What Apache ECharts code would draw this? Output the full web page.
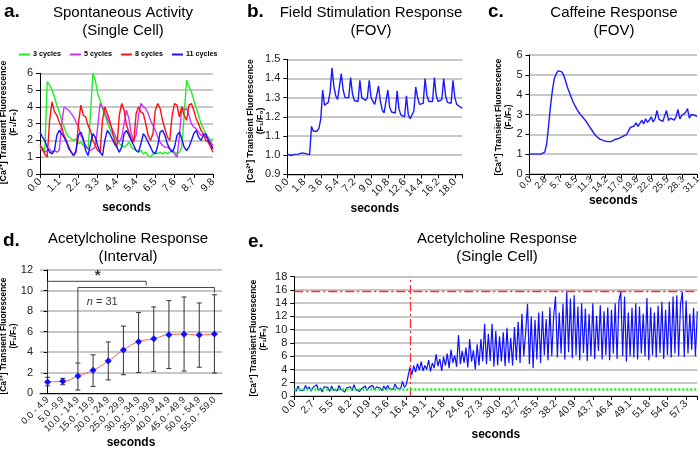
<!DOCTYPE html>
<html><head><meta charset="utf-8">
<script src="https://cdn.jsdelivr.net/npm/echarts@6/dist/echarts.min.js"></script>
<style>html,body{margin:0;padding:0;background:#fff}#c{width:700px;height:450px}</style>
</head><body><div id="c"></div>
<script>
// ---------- Panel a: spontaneous activity ----------
const ticksA = ['0.0','1.1','2.2','3.3','4.4','5.4','6.5','7.6','8.7','9.8'];
const green3 = [1.5,1.6,1.4,5.5,5.3,5.0,4.6,4.1,3.7,3.2,
 2.8,2.4,2.2,2.1,2.0,2.1,1.8,1.9,1.7,1.6,
 1.5,3.5,6.0,5.6,4.8,4.4,3.9,3.5,3.1,2.7,
 2.4,2.2,2.0,1.8,1.7,1.6,1.7,1.9,1.6,1.5,
 1.4,1.3,1.4,1.2,1.3,1.1,1.0,1.2,1.3,1.2,
 1.3,1.2,1.3,1.2,1.3,1.4,1.3,1.2,1.3,1.6,
 3.5,5.6,5.2,4.9,4.4,3.9,3.5,3.0,2.7,2.4,
 2.2,2.0,2.1];
const magenta5 = [1.5,1.4,1.3,1.4,1.5,1.3,1.4,1.3,1.4,3.0,
 4.0,3.9,3.8,3.6,3.4,3.1,2.8,2.3,2.0,1.7,
 1.5,1.4,1.5,1.6,2.8,4.2,4.0,3.7,3.3,3.0,
 2.7,2.4,2.1,1.9,2.2,3.0,3.8,3.3,2.4,2.0,
 2.3,3.5,4.2,4.0,3.9,3.6,3.2,2.9,2.6,2.2,
 1.9,1.7,1.6,1.6,1.5,1.4,1.2,1.0,2.2,4.0,
 3.8,3.9,3.5,3.0,2.8,2.7,2.5,2.3,2.4,2.2,
 2.1,1.9,1.7];
const red8 = [1.75,1.5,1.2,1.0,3.2,4.3,3.7,3.5,3.1,2.8,
 2.3,2.0,1.6,1.3,1.1,1.3,3.0,4.1,3.5,3.4,
 2.9,2.6,2.0,1.7,1.4,1.3,3.2,4.0,3.6,3.2,
 2.6,2.0,1.6,3.5,4.2,3.8,2.9,2.5,2.1,1.9,
 3.6,4.0,3.7,3.6,3.0,2.3,2.0,2.4,3.8,4.2,
 3.9,3.2,2.7,2.2,2.0,3.5,4.2,4.1,3.4,4.0,
 3.5,3.2,4.1,4.2,3.8,3.3,3.0,2.6,2.4,2.0,
 1.9,1.6,1.3];
const blue11 = [2.5,2.2,2.0,1.6,1.3,1.2,1.4,2.3,2.6,2.4,
 2.2,1.9,1.5,1.3,1.1,1.4,2.3,2.5,2.1,1.4,
 1.1,1.8,2.4,2.2,1.7,1.3,1.1,2.0,2.6,2.4,
 2.1,1.8,1.6,1.3,1.6,2.4,2.6,2.3,2.0,1.7,
 1.4,1.3,1.8,2.4,2.2,1.9,1.6,1.3,1.2,1.7,
 2.5,2.6,2.3,1.8,1.5,1.3,1.6,2.3,2.5,2.1,
 1.6,1.4,1.6,2.0,2.4,2.6,2.2,2.0,2.3,2.4,
 2.0,1.8,1.5];

// ---------- Panel b: field stimulation ----------
const ticksB = ['0.0','1.8','3.6','5.4','7.2','9.0','10.8','12.6','14.4','16.2','18.0'];
const fieldStim = [1.005,1.003,0.998,1.000,1.004,1.003,1.005,1.004,1.012,1.015,
 1.008,1.006,1.003,1.15,1.125,1.115,1.125,1.14,1.19,1.34,
 1.26,1.255,1.275,1.33,1.455,1.36,1.31,1.29,1.30,1.425,
 1.34,1.30,1.29,1.30,1.405,1.32,1.285,1.275,1.28,1.39,
 1.30,1.29,1.285,1.30,1.39,1.30,1.28,1.265,1.27,1.36,
 1.28,1.235,1.22,1.225,1.34,1.25,1.225,1.22,1.22,1.335,
 1.24,1.21,1.20,1.20,1.31,1.21,1.19,1.195,1.23,1.355,
 1.30,1.265,1.255,1.27,1.40,1.31,1.28,1.275,1.28,1.405,
 1.31,1.28,1.28,1.29,1.40,1.31,1.275,1.265,1.27,1.39,
 1.30,1.265,1.255,1.25,1.245];

// ---------- Panel c: caffeine ----------
const ticksC = ['0.0','2.8','5.7','8.5','11.3','14.2','17.0','19.8','22.6','25.5','28.3','31.1'];
const caffeine = [1.0,1.0,1.0,1.0,1.0,1.0,1.0,1.02,1.1,1.5,
 2.4,3.4,4.2,4.8,5.05,5.2,5.2,5.15,4.97,4.68,
 4.35,4.1,3.85,3.62,3.42,3.25,3.1,2.97,2.86,2.74,
 2.62,2.47,2.32,2.18,2.03,1.92,1.82,1.76,1.71,1.68,
 1.66,1.63,1.62,1.64,1.70,1.74,1.76,1.80,1.86,1.90,
 1.96,1.99,2.05,2.35,2.28,2.42,2.58,2.40,2.50,2.70,
 2.52,2.78,2.60,2.72,2.88,2.62,2.80,3.20,2.75,2.85,
 2.65,2.92,3.20,2.70,2.82,2.90,2.72,2.88,3.25,2.78,
 2.95,2.85,3.10,3.30,2.82,3.00,3.08,2.95,2.90];

// ---------- Panel d: acetylcholine interval ----------
const intervals = ['0.0 - 4.9','5.0 -9.9','10.0 - 14.9','15.0 - 19.9','20.0 - 24.9','25.0 - 29.9',
 '30.0 - 34.9','35.0 - 39.9','40.0 - 44.9','45.0 - 49.9','50.0 - 54.9','55.0 - 59.0'];
const achMean = [1.11,1.17,1.68,2.25,3.14,4.22,5.02,5.30,5.71,5.75,5.68,5.78];
const achUpper = [1.56,1.46,2.95,3.75,5.00,6.54,7.87,8.41,9.02,9.37,8.79,9.59];
const achLower = [0.73,0.83,0.32,0.67,1.30,1.81,2.03,2.13,2.41,2.16,2.54,1.97];
const bracket1 = [[0,1.6],[0,10.9],[6.5,10.9],[6.5,10.5]];
const bracket2 = [[2,3.0],[2,10.3],[11,10.3],[11,9.8]];
const starPos = [3.3,11.4];
const nPos = [3.6,8.9];

// ---------- Panel e: acetylcholine single cell ----------
const ticksE = ['0.0','2.7','5.5','8.2','10.9','13.6','16.4','19.1','21.8','24.6','27.3','30.0',
 '32.7','35.5','38.2','40.9','43.7','46.4','49.1','51.8','54.6','57.3'];
const achCell = [1.3,0.7,1.5,0.9,1.2,0.8,1.6,1.0,1.4,0.7,
 1.3,1.0,1.7,0.8,1.2,0.6,1.4,1.1,1.3,0.7,
 1.5,0.9,1.2,0.8,1.6,1.0,1.3,0.6,1.2,0.9,
 1.4,0.8,1.7,1.0,1.2,0.7,1.1,0.9,1.5,0.8,
 1.3,1.0,1.6,0.9,1.4,1.1,1.2,0.8,1.5,1.0,
 1.6,1.1,1.4,1.0,1.8,1.2,1.5,1.1,2.2,1.3,
 1.7,1.4,4.3,3.2,4.6,3.6,4.9,3.9,5.2,3.8,
 4.6,4.0,5.4,3.7,5.0,4.2,6.3,4.5,5.6,3.8,
 5.9,4.6,6.4,4.2,7.0,5.0,6.1,4.4,9.2,4.8,
 6.8,5.0,7.3,4.3,8.6,5.2,6.9,4.0,7.8,4.6,
 8.6,5.2,10.9,4.8,9.4,5.3,10.9,4.4,9.8,4.6,
 9.0,5.2,9.6,4.5,10.3,5.0,8.8,4.6,10.4,5.4,
 11.2,5.0,12.4,6.0,9.6,13.9,4.8,12.0,4.2,11.5,
 5.5,12.6,5.0,12.8,6.2,11.6,5.4,13.4,6.0,12.0,
 15.0,5.8,12.6,6.4,13.9,5.5,15.8,6.6,14.7,5.7,
 15.2,6.2,13.5,5.4,14.0,6.5,13.2,5.3,12.4,6.0,
 14.0,5.6,12.1,6.8,13.7,5.5,12.8,6.2,13.4,5.4,
 13.0,6.4,14.0,5.6,14.4,15.7,6.0,15.0,5.2,12.6,
 6.0,13.3,5.8,14.0,5.5,13.5,6.4,12.4,6.0,14.8,
 5.4,13.4,6.2,12.6,5.8,13.6,6.5,14.2,5.6,13.0,
 6.2,14.2,5.8,15.0,6.4,15.2,6.0,13.8,15.7,5.9,
 14.4,6.4,12.4,7.0,13.3,6.0,12.8];
const onsetIndex = 62;
const maxLevel = 15.8;
const baseLevel = 1.0;

// ---------- helpers ----------
const FF = "'Liberation Sans', Arial, sans-serif";
function cats(ticks, k, n){ const a=[]; for(let i=0;i<n;i++){ a.push(i%k===0 && ticks[i/k]!==undefined ? ticks[i/k] : ' '+i); } return a; }
function isTick(ticks, k, idx){ return idx % k === 0 && ticks[idx/k] !== undefined; }
function catAxis(g, ticks, k, n, nameGap){
  return {type:'category', gridIndex:g, position:'bottom', data:cats(ticks,k,n), boundaryGap:false,
    axisLine:{lineStyle:{color:'#000',width:1}},
    axisTick:{interval:k-1, length:4, lineStyle:{color:'#000'}},
    axisLabel:{interval:k-1, rotate:45, fontSize:10.5, lineHeight:9, color:'#222', fontFamily:FF, margin:6,
      showMinLabel:true, showMaxLabel:true,
      formatter:(v, idx) => isTick(ticks,k,idx) ? v : ''},
    splitLine:{show:false},
    name:'seconds', nameLocation:'middle', nameGap:nameGap,
    nameTextStyle:{fontWeight:'bold', fontSize:12, color:'#000', fontFamily:FF}};
}
function valAxis(g, min, max, interval, dec){
  return {type:'value', gridIndex:g, min:min, max:max, interval:interval,
    axisLine:{show:true, lineStyle:{color:'#000',width:1}},
    axisTick:{show:true, length:4, lineStyle:{color:'#000'}},
    splitLine:{lineStyle:{color:'#c8c8c8', width:2}},
    axisLabel:{fontSize:11, color:'#222', fontFamily:FF, margin:7,
      formatter: v => dec ? v.toFixed(dec) : String(Math.round(v))}};
}
function line(name, data, xi, yi, color, w){
  return {type:'line', name:name, data:data, xAxisIndex:xi, yAxisIndex:yi, symbol:'none',
    lineStyle:{color:color, width:w||1.4}, itemStyle:{color:color}, animation:false};
}
function txt(x,y,text,font,align,rot){
  const o = {type:'text', x:x, y:y, silent:true,
    style:{text:text, font:font, fill:'#000', align:align||'center', verticalAlign:'middle',
      textAlign:align||'center', textVerticalAlign:'middle', lineHeight:18}};
  if (rot) { o.rotation = rot; o.style.lineHeight = 10; }
  return o;
}
const yName = '[Ca²⁺] Transient Fluorescence\n(F₁/F₀)';

// Panel c: axis labels are drawn by a custom series at the tick positions (library coords)
const kC = 8;
const axisC = catAxis(2, ticksC, kC, caffeine.length, 21);
axisC.axisLabel.show = false;

const option = {
  animation:false,
  backgroundColor:'#fff',
  grid:[
    {left:40, top:73.3, width:173, height:100.7},
    {left:287.3, top:59.3, width:175, height:115},
    {left:529.5, top:55, width:167.5, height:119},
    {left:40, top:270, width:182, height:126},
    {left:294.3, top:276.7, width:403, height:119.3}
  ],
  xAxis:[
    catAxis(0, ticksA, 8, green3.length, 28),
    catAxis(1, ticksB, 9, fieldStim.length, 28),
    axisC,
    Object.assign(catAxis(3, intervals, 1, intervals.length, 41), {
      data:intervals, boundaryGap:true,
      axisTick:{length:4, lineStyle:{color:'#000'}},
      axisLabel:{interval:0, rotate:45, fontSize:9.5, lineHeight:9, color:'#222', fontFamily:FF, margin:5,
        showMinLabel:true, showMaxLabel:true}}),
    {type:'value', gridIndex:3, min:-0.5, max:11.5, show:false},
    catAxis(4, ticksE, 10, achCell.length, 33)
  ],
  yAxis:[
    valAxis(0, 0, 6, 1, 0),
    valAxis(1, 0.9, 1.5, 0.1, 1),
    valAxis(2, 0, 6, 1, 0),
    valAxis(3, 0, 12, 2, 0),
    valAxis(4, 0, 18, 2, 0)
  ],
  legend:{data:['3 cycles','5 cycles','8 cycles','11 cycles'], left:14, top:46, icon:'rect',
    itemWidth:11, itemHeight:2, itemGap:9,
    textStyle:{fontSize:7.2, fontWeight:'bold', color:'#000', fontFamily:FF, padding:[0,0,0,-2]}},
  series:[
    line('3 cycles', green3, 0, 0, '#22ee22'),
    line('5 cycles', magenta5, 0, 0, '#cc33ff'),
    line('8 cycles', red8, 0, 0, '#ff1111'),
    line('11 cycles', blue11, 0, 0, '#1515ff'),
    line('field', fieldStim, 1, 1, '#1a1aff'),
    line('caffeine', caffeine, 2, 2, '#1a1aff'),
    {type:'custom', name:'cLabels', xAxisIndex:2, yAxisIndex:2, clip:false, silent:true,
      data: ticksC.map((t,j)=>[j*kC, 0]),
      encode:{x:0, y:1},
      renderItem:(params, api)=>{
        const p = api.coord([api.value(0), api.value(1)]);
        return {type:'text', x:p[0]+1, y:p[1]+4, rotation:Math.PI/4,
          style:{text:ticksC[params.dataIndex], font:"9.5px "+FF, fill:'#222',
            align:'right', verticalAlign:'middle', textAlign:'right', textVerticalAlign:'middle'}};
      }},
    {type:'custom', name:'err', xAxisIndex:3, yAxisIndex:3, z:2,
      data: achMean.map((m,i)=>[i, achLower[i], achUpper[i]]),
      encode:{x:0, y:[1,2]},
      renderItem:(params, api)=>{
        const x = api.value(0);
        const lo = api.coord([x, api.value(1)]);
        const hi = api.coord([x, api.value(2)]);
        const w = 2.5, st = {stroke:'#333', lineWidth:1};
        return {type:'group', children:[
          {type:'line', shape:{x1:lo[0],y1:lo[1],x2:hi[0],y2:hi[1]}, style:st},
          {type:'line', shape:{x1:lo[0]-w,y1:lo[1],x2:lo[0]+w,y2:lo[1]}, style:st},
          {type:'line', shape:{x1:hi[0]-w,y1:hi[1],x2:hi[0]+w,y2:hi[1]}, style:st}
        ]};
      }},
    {type:'line', name:'mean', data:achMean, xAxisIndex:3, yAxisIndex:3, smooth:true, z:3,
      symbol:'diamond', symbolSize:7, itemStyle:{color:'#1010ff'},
      lineStyle:{color:'#ff5a5a', width:1}},
    {type:'line', name:'br1', data:bracket1, xAxisIndex:4, yAxisIndex:3, symbol:'none',
      lineStyle:{color:'#444', width:1}},
    {type:'line', name:'br2', data:bracket2, xAxisIndex:4, yAxisIndex:3, symbol:'none',
      lineStyle:{color:'#444', width:1}},
    {type:'scatter', name:'ann', xAxisIndex:4, yAxisIndex:3, symbolSize:0,
      data:[
        {value:starPos, label:{show:true, position:'inside', formatter:'*', fontSize:15, fontWeight:'bold', color:'#000', fontFamily:FF}},
        {value:nPos, label:{show:true, position:'inside', formatter:'{i|n} = 31', fontSize:11, color:'#000', fontFamily:FF,
          rich:{i:{fontStyle:'italic', fontSize:11, fontFamily:FF}}}}
      ]},
    Object.assign(line('ach', achCell, 5, 4, '#1010ff', 1.2), {
      markLine:{silent:true, symbol:'none', label:{show:false}, z:5,
        data:[
          {yAxis:maxLevel, lineStyle:{color:'#ff2a2a', width:1.3, type:[9,3,2,3]}},
          {xAxis:onsetIndex, lineStyle:{color:'#ff2a2a', width:1.2, type:[9,3,2,3]}},
          {yAxis:baseLevel, lineStyle:{color:'#22ee22', width:2.5, type:[2,2]}}
        ]}})
  ],
  graphic:[
    txt(4,12,'a.',"bold 19px "+FF,'left'),
    txt(247,12,'b.',"bold 19px "+FF,'left'),
    txt(488,12,'c.',"bold 19px "+FF,'left'),
    txt(3,241,'d.',"bold 19px "+FF,'left'),
    txt(248,242,'e.',"bold 19px "+FF,'left'),
    txt(123,22,'Spontaneous Activity\n(Single Cell)',"15px "+FF),
    txt(371,22,'Field Stimulation Response\n(FOV)',"15px "+FF),
    txt(614,22,'Caffeine Response\n(FOV)',"15px "+FF),
    txt(128,248,'Acetylcholine Response\n(Interval)',"15px "+FF),
    txt(497,248,'Acetylcholine Response\n(Single Cell)',"15px "+FF),
    txt(9,122.5,yName,"bold 8.8px "+FF,'center',Math.PI/2),
    txt(256,121,yName,"bold 8.8px "+FF,'center',Math.PI/2),
    txt(503.5,117,yName,"bold 8.3px "+FF,'center',Math.PI/2),
    txt(9,336,yName,"bold 8.3px "+FF,'center',Math.PI/2),
    txt(258.5,338,yName,"bold 8.3px "+FF,'center',Math.PI/2)
  ]
};
const chart = echarts.init(document.getElementById('c'), null, {renderer:'canvas'});
chart.setOption(option);
</script></body></html>
